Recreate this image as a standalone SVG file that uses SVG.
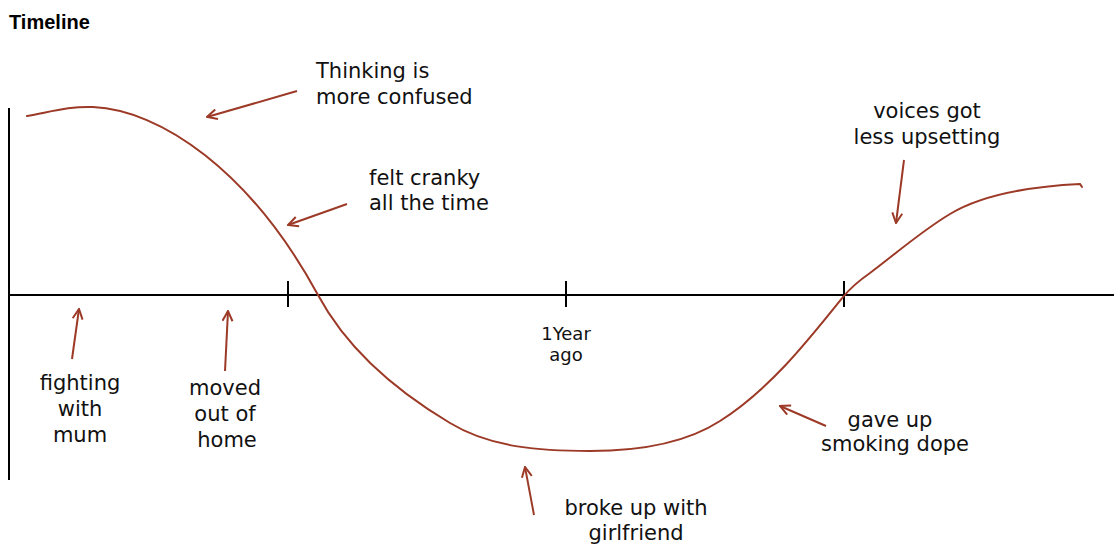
<svg xmlns="http://www.w3.org/2000/svg" width="1114" height="547" viewBox="0 0 1114 547">
<style>
.t{font-family:"DejaVu Sans","Liberation Sans",sans-serif;font-size:21px;fill:#111}
.s{font-family:"DejaVu Sans","Liberation Sans",sans-serif;font-size:18px;fill:#111}
.c{text-anchor:middle}
.ax{stroke:#000;stroke-width:2;fill:none}
.cur{stroke:#9c3a27;stroke-width:2;fill:none;stroke-linecap:round}
.ar{stroke:#9c3a27;stroke-width:2;fill:none;marker-end:url(#ah)}
</style>
<defs>
<marker id="ah" viewBox="0 0 12 12" refX="11" refY="6" markerWidth="12" markerHeight="12" markerUnits="userSpaceOnUse" orient="auto">
<path d="M1,1 L11,6 L1,11" fill="none" stroke="#9c3a27" stroke-width="2"/>
</marker>
</defs>
<rect width="1114" height="547" fill="#fff"/>
<text x="9" y="29" font-family="Liberation Sans, Arial, sans-serif" font-weight="bold" font-size="20" fill="#000">Timeline</text>
<g id="axes">
<line class="ax" x1="9" y1="108" x2="9" y2="480"/>
<line class="ax" x1="9" y1="295" x2="1114" y2="295"/>
<line class="ax" x1="288" y1="281" x2="288" y2="307"/>
<line class="ax" x1="566" y1="281" x2="566" y2="307"/>
<line class="ax" x1="844" y1="281" x2="844" y2="307"/>
</g>
<g id="curve">
<path class="cur" d="M27,116 C50,112 70,106 93,107 C160,110 250,170 318,295 C347,349 398,392 450,423 C491,448 542,451 590,451 C634,451 683,445 720,421 C769,390 807,342 843,297 C852,286 860,280 870,273 C893,256 920,232 950,214 C985,193 1040,186 1080,184 L1082,187"/>
</g>
<g id="connectors">
<line class="ar" x1="297" y1="91" x2="207" y2="117"/>
<line class="ar" x1="347" y1="204" x2="288" y2="225"/>
<line class="ar" x1="904" y1="160" x2="896" y2="223"/>
<line class="ar" x1="72" y1="359" x2="79" y2="309"/>
<line class="ar" x1="225" y1="371" x2="228" y2="311"/>
<line class="ar" x1="534" y1="515" x2="525" y2="467"/>
<line class="ar" x1="826" y1="426" x2="780" y2="406"/>
</g>
<g id="n-thinking"><text class="t" x="316" y="78">Thinking is</text><text class="t" x="316" y="104">more confused</text></g>
<g id="n-cranky"><text class="t" x="369" y="185">felt cranky</text><text class="t" x="369" y="210">all the time</text></g>
<g id="n-voices"><text class="t c" x="927" y="118">voices got</text><text class="t c" x="927" y="144">less upsetting</text></g>
<g id="n-fighting"><text class="t c" x="80" y="390">fighting</text><text class="t c" x="80" y="416">with</text><text class="t c" x="80" y="442">mum</text></g>
<g id="n-moved"><text class="t c" x="225" y="395">moved</text><text class="t c" x="225" y="421">out of</text><text class="t c" x="227" y="447">home</text></g>
<g id="n-year"><text class="s c" x="566" y="340">1Year</text><text class="s c" x="566" y="361">ago</text></g>
<g id="n-broke"><text class="t c" x="636" y="515">broke up with</text><text class="t c" x="636" y="540">girlfriend</text></g>
<g id="n-gave"><text class="t c" x="890" y="427">gave up</text><text class="t c" x="895" y="451">smoking dope</text></g>
</svg>
